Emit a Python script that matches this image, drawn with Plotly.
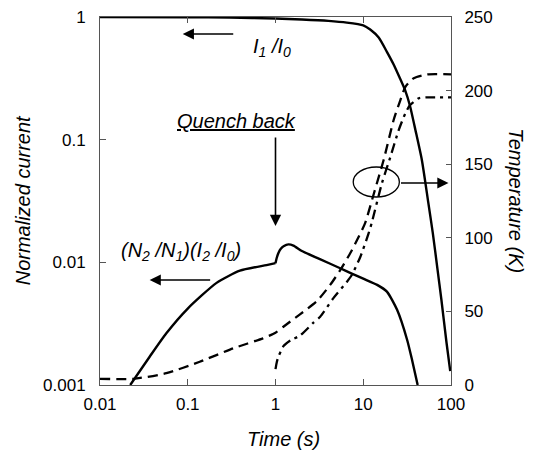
import plotly.graph_objects as go

# ---- data ----
t_i1 = [0.01, 0.1, 0.3, 1, 2, 4, 6.5, 10, 12, 15, 18.6, 22.2, 26, 30.2, 34, 39.3, 46.6, 55, 62, 70, 77.6, 89, 98]
i1 = [1.0, 0.995, 0.988, 0.972, 0.955, 0.93, 0.9, 0.855, 0.79, 0.68, 0.52, 0.41, 0.32, 0.25, 0.19, 0.12, 0.068, 0.031, 0.0174, 0.0089, 0.005, 0.0022, 0.0013]

t_i2_a = [0.0221, 0.0368, 0.057, 0.1, 0.213, 0.393, 0.79, 1.0]
i2_a = [0.001, 0.0017, 0.00264, 0.0042, 0.0068, 0.00855, 0.0095, 0.00985]
t_i2_b = [1.0, 1.03, 1.08, 1.15, 1.25, 1.4, 1.6, 2.0, 3.16, 5.46, 7.4, 10, 14.4, 18.6, 24.3, 31.6, 36, 41.7]
i2_b = [0.00985, 0.0108, 0.0119, 0.0129, 0.0136, 0.0140, 0.0137, 0.01236, 0.01067, 0.00895, 0.0081, 0.00736, 0.00655, 0.00577, 0.0041, 0.00234, 0.0016, 0.001]

t_T1 = [0.01, 0.024, 0.057, 0.137, 0.33, 0.72, 1.0, 1.23, 1.9, 2.96, 4.2, 5.46, 7.1, 8.5, 10.5, 13.5, 17.1, 22.2, 26.5, 30.2, 37.6, 53.5, 100]
T1 = [4.2, 4.2, 8, 15.8, 24.9, 31.7, 35.5, 39.6, 48, 57, 68, 78, 89.5, 98.5, 110, 132, 153, 180, 193.6, 202.6, 208.4, 211, 211]

t_T2 = [1.0, 1.03, 1.07, 1.15, 1.24, 1.5, 1.9, 2.67, 3.23, 4.57, 6.5, 7.4, 9.25, 11.5, 12.6, 16.3, 20.4, 25.3, 30.2, 34, 42.9, 53.5, 100]
T2 = [10.8, 15, 18.7, 23, 26.6, 30.5, 33.5, 42, 46.4, 59, 70, 74.7, 87, 103, 111, 137, 155, 173, 184.6, 190, 194.8, 195.4, 195.4]

x_ticks = [0.01, 0.1, 1, 10, 100]
x_tick_labels = ["0.01", "0.1", "1", "10", "100"]
y_ticks = [0.001, 0.01, 0.1, 1]
y_tick_labels = ["0.001", "0.01", "0.1", "1"]
y2_ticks = [0, 50, 100, 150, 200, 250]

FONT = "Liberation Sans, Arial, Helvetica, sans-serif"
W, H = 534, 452
L, R, T, B = 100.5, 450.5, 17, 385


def px(x):
    return (x - L) / (R - L)


def py(y):
    return (B - y) / (B - T)


fig = go.Figure()
solid = dict(color="black", width=2.4, shape="spline", smoothing=0.6)
fig.add_trace(go.Scatter(x=t_i1, y=i1, mode="lines", line=solid, yaxis="y"))
fig.add_trace(go.Scatter(x=t_i2_a, y=i2_a, mode="lines", line=solid, yaxis="y"))
fig.add_trace(go.Scatter(x=t_i2_b, y=i2_b, mode="lines", line=solid, yaxis="y"))
fig.add_trace(go.Scatter(x=t_T1, y=T1, mode="lines", yaxis="y2",
                         line=dict(color="black", width=2.3, dash="10px,6px", shape="spline", smoothing=0.6)))
fig.add_trace(go.Scatter(x=t_T2, y=T2, mode="lines", yaxis="y2",
                         line=dict(color="black", width=2.3, dash="10px,5px,3px,5px", shape="spline", smoothing=0.6)))

axcol = "#555555"
tickfont = dict(family=FONT, size=17, color="black")

fig.update_layout(
    width=W, height=H,
    margin=dict(l=100, r=83, t=17, b=67, pad=0, autoexpand=False),
    paper_bgcolor="white", plot_bgcolor="white",
    showlegend=False,
    hovermode=False,
    xaxis=dict(type="log", range=[-2, 2], tickvals=x_ticks, ticktext=x_tick_labels,
               showgrid=False, zeroline=False, showline=True, linecolor=axcol, linewidth=1,
               mirror="ticks", ticks="inside", ticklen=6, tickcolor=axcol, tickwidth=1,
               tickfont=tickfont, ticklabelstandoff=4, automargin=False),
    yaxis=dict(type="log", range=[-3, 0], tickvals=y_ticks, ticktext=y_tick_labels,
               showgrid=False, zeroline=False, showline=True, linecolor=axcol, linewidth=1,
               ticks="inside", ticklen=6, tickcolor=axcol, tickwidth=1,
               tickfont=tickfont, ticklabelstandoff=10, automargin=False),
    yaxis2=dict(overlaying="y", side="right", range=[0, 250], tickvals=y2_ticks,
                showgrid=False, zeroline=False, showline=True, linecolor=axcol, linewidth=1,
                ticks="inside", ticklen=5, tickcolor=axcol, tickwidth=1,
                tickfont=tickfont, ticklabelstandoff=9, automargin=False),
)

ann_font = dict(family=FONT, size=20, color="black")
anns = []


def label(x, y, text, angle=0):
    anns.append(dict(x=px(x), y=py(y), xref="paper", yref="paper", showarrow=False,
                     xanchor="center", yanchor="middle", textangle=angle,
                     text=text, font=ann_font))


label(272, 48, "<i>I<sub>1</sub> /I<sub>0</sub></i>")
label(237, 121, "<i><u>Quench back</u></i>")
label(181, 251, "<i>(N<sub>2</sub> /N<sub>1</sub>)(I<sub>2</sub> /I<sub>0</sub>)</i>")
label(283, 439, "<i>Time (s)</i>")
label(24, 200, "<i>Normalized current</i>", -90)
label(515, 201, "<i>Temperature (K)</i>", 90)

# arrows: (head_x, head_y, tail_x, tail_y) in pixels
arrows = [(183, 34, 235, 34), (275.5, 226, 275.5, 136), (150, 280, 212, 280), (448, 183, 399, 183)]
for hx, hy, tx, ty in arrows:
    anns.append(dict(x=px(hx), y=py(hy), xref="paper", yref="paper", ax=tx - hx, ay=ty - hy,
                     axref="pixel", ayref="pixel", text="", showarrow=True,
                     arrowhead=2, arrowsize=1.4, arrowwidth=1.6, arrowcolor="black"))
fig.update_layout(annotations=anns)

fig.add_shape(type="circle", xref="paper", yref="paper",
              x0=px(353), x1=px(399), y0=py(197), y1=py(167),
              line=dict(color="black", width=1.3))

fig.write_html("out.html", config={"displayModeBar": False, "staticPlot": True},
               post_script="document.body.style.margin='0';document.body.style.overflow='hidden';")
